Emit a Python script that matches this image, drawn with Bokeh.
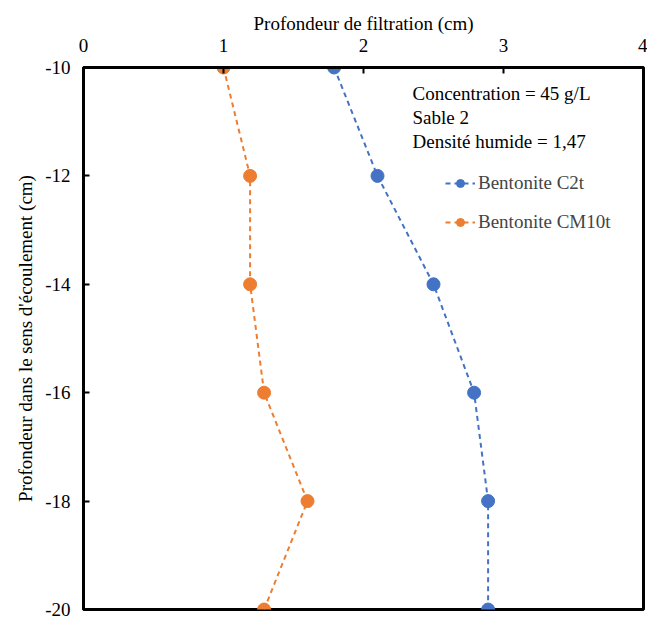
from bokeh.plotting import figure
from bokeh.models import Range1d, FixedTicker, Label, Legend, LegendItem
from bokeh.embed import file_html
from bokeh.resources import INLINE

depth = [-10, -12, -14, -16, -18, -20]
c2t = [1.79, 2.10, 2.50, 2.79, 2.89, 2.89]
cm10t = [1.00, 1.19, 1.19, 1.29, 1.60, 1.29]
x_ticks = [0, 1, 2, 3, 4]
y_ticks = [-10, -12, -14, -16, -18, -20]
notes = ["Concentration = 45 g/L", "Sable 2", "Densité humide = 1,47"]

BLUE = "#4472C4"
ORANGE = "#ED7D31"
FONT = "Liberation Serif"
FS = "19px"

p = figure(width=647, height=622, output_backend="svg", toolbar_location=None,
           x_axis_location="above", x_range=Range1d(0, 4), y_range=Range1d(-20, -10),
           min_border_left=83, min_border_right=4, min_border_top=67, min_border_bottom=13)
p.xgrid.visible = False
p.ygrid.visible = False
p.outline_line_color = "black"
p.outline_line_width = 3

for ax in (p.xaxis[0], p.yaxis[0]):
    ax.axis_line_width = 3
    ax.axis_line_color = "black"
    ax.major_tick_in = 6
    ax.major_tick_out = 0
    ax.major_tick_line_width = 2
    ax.minor_tick_line_color = None
    ax.major_label_text_font = FONT
    ax.major_label_text_font_size = FS
    ax.major_label_text_color = "black"
    ax.axis_label_text_font = FONT
    ax.axis_label_text_font_size = FS
    ax.axis_label_text_font_style = "normal"
    ax.axis_label_text_color = "black"

p.xaxis.ticker = FixedTicker(ticks=x_ticks)
p.yaxis.ticker = FixedTicker(ticks=y_ticks)
p.yaxis.major_label_overrides = {t: "%d" % t for t in y_ticks}
p.xaxis.axis_label = "Profondeur de filtration (cm)"
p.yaxis.axis_label = "Profondeur dans le sens d'écoulement (cm)"
p.xaxis.major_label_standoff = 16
p.xaxis.axis_label_standoff = 2
p.yaxis.major_label_standoff = 13
p.yaxis.axis_label_standoff = 6

l1 = p.line(c2t, depth, line_color=BLUE, line_dash="5 4", line_width=2)
s1 = p.scatter(c2t, depth, size=13, fill_color=BLUE, line_color=BLUE)
l2 = p.line(cm10t, depth, line_color=ORANGE, line_dash="5 4", line_width=2)
s2 = p.scatter(cm10t, depth, size=13, fill_color=ORANGE, line_color=ORANGE)

for i, t in enumerate(notes):
    p.add_layout(Label(x=2.35, y=-10.48 - i * 0.44, text=t, text_font=FONT,
                       text_font_size=FS, text_baseline="middle", text_color="black"))

legend = Legend(items=[LegendItem(label="Bentonite C2t", renderers=[l1, s1]),
                       LegendItem(label="Bentonite CM10t", renderers=[l2, s2])],
                location=(362, 376), background_fill_alpha=0, border_line_color=None,
                label_text_font=FONT, label_text_font_size=FS, glyph_width=30,
                label_standoff=3, spacing=17, padding=0, margin=0)
p.add_layout(legend)

open("out.html", "w").write(file_html(p, INLINE))
